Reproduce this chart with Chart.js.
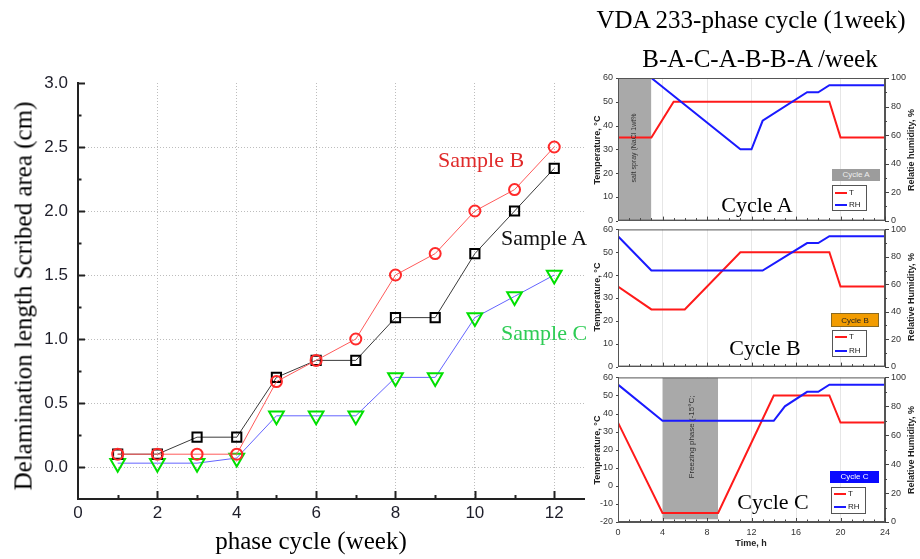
<!DOCTYPE html>
<html><head><meta charset="utf-8">
<script src="https://cdn.jsdelivr.net/npm/chart.js@4.4.0/dist/chart.umd.min.js"></script>
<style>
html,body{margin:0;padding:0;background:#fff;}
body{width:920px;height:559px;position:relative;overflow:hidden;}
canvas{position:absolute;}
.t{position:absolute;white-space:nowrap;line-height:1;}
.serif{font-family:"Liberation Serif","DejaVu Serif",serif;}
.sans{font-family:"Liberation Sans",Arial,sans-serif;}
.c{transform:translate(-50%,-50%);}
.l{transform:translate(0,-50%);}
.rot{transform:translate(-50%,-50%) rotate(-90deg);}
.box{position:absolute;box-sizing:border-box;}
.leg{position:absolute;box-sizing:border-box;border:1px solid #555;background:#fff;}
.sw{position:absolute;height:2px;}
</style></head><body>
<canvas id="main" width="600" height="559" style="left:0;top:0"></canvas>
<canvas id="ca" width="330" height="166" style="left:590px;top:66px"></canvas>
<canvas id="cb" width="330" height="160" style="left:590px;top:218px"></canvas>
<canvas id="cc" width="330" height="193" style="left:590px;top:366px"></canvas>

<!-- main chart texts -->
<div class="t serif rot" style="left:23px;top:296px;font-size:25px;">Delamination length Scribed area (cm)</div>
<div class="t serif c" style="left:311px;top:540px;font-size:25px;">phase cycle (week)</div>
<div class="t serif l" style="left:438px;top:160px;font-size:22px;color:#e02a2a;">Sample B</div>
<div class="t serif l" style="left:501px;top:238px;font-size:22px;color:#111;">Sample A</div>
<div class="t serif l" style="left:501px;top:333px;font-size:22px;color:#2ecc55;">Sample C</div>

<!-- headings -->
<div class="t serif c" style="left:751px;top:19px;font-size:25px;">VDA 233-phase cycle (1week)</div>
<div class="t serif c" style="left:760px;top:58px;font-size:25px;">B-A-C-A-B-B-A /week</div>

<!-- small chart axis titles -->
<div class="t sans rot" style="left:597px;top:150px;font-size:9px;font-weight:bold;color:#222;">Temperature, °C</div>
<div class="t sans rot" style="left:597px;top:297px;font-size:9px;font-weight:bold;color:#222;">Temperature, °C</div>
<div class="t sans rot" style="left:597px;top:450px;font-size:9px;font-weight:bold;color:#222;">Temperature, °C</div>
<div class="t sans rot" style="left:911px;top:150px;font-size:9px;font-weight:bold;color:#222;">Relatie humidity, %</div>
<div class="t sans rot" style="left:911px;top:297px;font-size:9px;font-weight:bold;color:#222;">Relative Humidity, %</div>
<div class="t sans rot" style="left:911px;top:450px;font-size:9px;font-weight:bold;color:#222;">Relative Humidity, %</div>
<div class="t sans c" style="left:751px;top:543px;font-size:9px;font-weight:bold;color:#222;">Time, h</div>

<!-- grey box texts -->
<div class="t sans rot" style="left:633px;top:148px;font-size:7px;color:#333;">salt spray (NaCl 1wt%</div>
<div class="t sans rot" style="left:692px;top:437px;font-size:8px;color:#333;">Freezing phase (-15°C;</div>

<!-- cycle names -->
<div class="t serif c" style="left:757px;top:205px;font-size:22px;">Cycle A</div>
<div class="t serif c" style="left:765px;top:348px;font-size:22px;">Cycle B</div>
<div class="t serif c" style="left:773px;top:502px;font-size:22px;">Cycle C</div>

<!-- cycle tags -->
<div class="box sans" style="left:832px;top:169px;width:48px;height:12px;background:#9c9c9c;color:#eee;font-size:8px;line-height:12px;text-align:center;">Cycle A</div>
<div class="box sans" style="left:831px;top:313px;width:48px;height:14px;background:#f29c00;color:#222;font-size:8px;line-height:14px;text-align:center;border:1px solid #8a6a20;">Cycle B</div>
<div class="box sans" style="left:830px;top:471px;width:49px;height:12px;background:#0a0aff;color:#fff;font-size:8px;line-height:12px;text-align:center;">Cycle C</div>

<!-- legends -->
<div class="leg" style="left:832px;top:185px;width:35px;height:26px;"></div>
<div class="sw" style="left:835px;top:192px;width:12px;background:#ff1a1a;"></div>
<div class="t sans l" style="left:849px;top:193px;font-size:8px;color:#222;">T</div>
<div class="sw" style="left:835px;top:204px;width:12px;background:#1a1aff;"></div>
<div class="t sans l" style="left:849px;top:205px;font-size:8px;color:#222;">RH</div>

<div class="leg" style="left:832px;top:330px;width:35px;height:27px;"></div>
<div class="sw" style="left:835px;top:336px;width:12px;background:#ff1a1a;"></div>
<div class="t sans l" style="left:849px;top:337px;font-size:8px;color:#222;">T</div>
<div class="sw" style="left:835px;top:350px;width:12px;background:#1a1aff;"></div>
<div class="t sans l" style="left:849px;top:351px;font-size:8px;color:#222;">RH</div>

<div class="leg" style="left:831px;top:487px;width:35px;height:27px;"></div>
<div class="sw" style="left:834px;top:493px;width:12px;background:#ff1a1a;"></div>
<div class="t sans l" style="left:848px;top:494px;font-size:8px;color:#222;">T</div>
<div class="sw" style="left:834px;top:506px;width:12px;background:#1a1aff;"></div>
<div class="t sans l" style="left:848px;top:507px;font-size:8px;color:#222;">RH</div>

<script>
// ---------- main chart data ----------
const weeks   = [1,2,3,4,5,6,7,8,9,10,11,12];
const sampleA = [0.10,0.10,0.233,0.233,0.70,0.833,0.833,1.167,1.167,1.667,2.00,2.333];
const sampleB = [0.10,0.10,0.10,0.10,0.667,0.833,1.00,1.50,1.667,2.00,2.167,2.50];
const sampleC = [0.03,0.03,0.03,0.07,0.40,0.40,0.40,0.70,0.70,1.167,1.333,1.50];
const xTickValues = [0,1,2,3,4,5,6,7,8,9,10,11,12];
const xMajor = [2,4,6,8,10,12];
const xMinor = [1,3,5,7,9,11];
const yTickValues = [-0.25,0,0.25,0.5,0.75,1.0,1.25,1.5,1.75,2.0,2.25,2.5,2.75,3.0];
const yMajor = [0,0.5,1.0,1.5,2.0,2.5,3.0];
const yMinor = [0.25,0.75,1.25,1.75,2.25,2.75];
const yGrid  = [0,0.5,1.0,1.5,2.0,2.5];

// ---------- cycle data (hours / values) ----------
const cycleA_T_h  = [0,3,5,19,20,24];
const cycleA_T    = [35,35,50,50,35,35];
const cycleA_RH_h = [0,3,11,12,13,17,18,19,24];
const cycleA_RH   = [100,100,50,50,70,90,90,95,95];
const cycleA_box  = [0,3];      // salt spray phase (h)

const cycleB_T_h  = [0,3,6,11,19,20,24];
const cycleB_T    = [35,25,25,50,50,35,35];
const cycleB_RH_h = [0,3,13,17,18,19,24];
const cycleB_RH   = [95,70,70,90,90,95,95];

const cycleC_T_h  = [0,4,9,14,19,20,24];
const cycleC_T    = [35,-15,-15,50,50,35,35];
const cycleC_RH_h = [0,4,14,15,17,18,19,24];
const cycleC_RH   = [95,70,70,80,90,90,95,95];
const cycleC_box  = [4,9];      // freezing phase (h)

const hourTicks  = [0,4,8,12,16,20,24];
const hourMinor  = [1,2,3,5,6,7,9,10,11,13,14,15,17,18,19,21,22,23];
const tempTicksAB = [0,10,20,30,40,50,60];
const tempTicksC  = [-20,-10,0,10,20,30,40,50,60];
const rhTicks    = [0,20,40,60,80,100];
const rhMinor    = [10,30,50,70,90];

const pts = (xs, ys) => xs.map((x,i)=>({x:x, y:ys[i]}));

const tickMarks = {
  id:'tickMarks',
  afterDraw(chart, args, opts){
    const ctx = chart.ctx, a = chart.chartArea;
    ctx.save();
    ctx.strokeStyle = opts.color || '#222';
    (opts.marks || []).forEach(m=>{
      const sc = chart.scales[m.axis];
      ctx.lineWidth = m.width || 1.5;
      m.values.forEach(v=>{
        const p = Math.round(sc.getPixelForValue(v)) + 0.5;
        ctx.beginPath();
        if (m.side === 'bottom') { ctx.moveTo(p, a.bottom); ctx.lineTo(p, a.bottom - m.len); }
        else if (m.side === 'left') { ctx.moveTo(a.left, p); ctx.lineTo(a.left + m.len, p); }
        else if (m.side === 'leftOut') { ctx.moveTo(a.left, p); ctx.lineTo(a.left - m.len, p); }
        else if (m.side === 'right') { ctx.moveTo(a.right, p); ctx.lineTo(a.right + m.len, p); }
        ctx.stroke();
      });
    });
    if (opts.frame) {
      ctx.lineWidth = 1; ctx.strokeStyle = opts.frameColor || '#555';
      ctx.strokeRect(a.left + 0.5, a.top + 0.5, a.right - a.left - 1, a.bottom - a.top - 1);
    }
    ctx.restore();
  }
};

const isIn = (arr, v) => arr.some(a => Math.abs(a - v) < 1e-6);

// ---------- main chart ----------
new Chart(document.getElementById('main'), {
  type: 'line',
  data: {
    datasets: [
      { label:'Sample A', data: pts(weeks, sampleA), borderColor:'#3a3a3a', borderWidth:1,
        pointStyle:'rect', pointRadius:6.5, pointBorderColor:'#000', pointBorderWidth:2,
        pointBackgroundColor:'rgba(0,0,0,0)', tension:0, order:1 },
      { label:'Sample B', data: pts(weeks, sampleB), borderColor:'#ff5a5a', borderWidth:1,
        pointStyle:'circle', pointRadius:5.5, pointBorderColor:'#ff2a2a', pointBorderWidth:2,
        pointBackgroundColor:'rgba(0,0,0,0)', tension:0, order:0 },
      { label:'Sample C', data: pts(weeks, sampleC), borderColor:'#6464ff', borderWidth:1,
        pointStyle:'triangle', pointRotation:180, pointRadius:8.5, pointBorderColor:'#00e000', pointBorderWidth:2,
        pointBackgroundColor:'rgba(0,0,0,0)', tension:0, order:2 }
    ]
  },
  options: {
    responsive:false, animation:false,
    layout:{ padding:{ left:0, right:16, top:83, bottom:0 } },
    plugins:{ legend:{display:false}, tooltip:{enabled:false},
      tickMarks:{ color:'#222', marks:[
        {axis:'x', side:'bottom', values:xMajor, len:8, width:2},
        {axis:'x', side:'bottom', values:xMinor, len:4, width:2},
        {axis:'y', side:'left', values:yMajor, len:7, width:2},
        {axis:'y', side:'left', values:yMinor, len:3.5, width:2}
      ]}
    },
    scales:{
      x:{ type:'linear', min:0, max:12.75,
        afterBuildTicks: s => { s.ticks = xTickValues.map(v=>({value:v})); },
        afterFit: s => { s.height = 60; },
        ticks:{ autoSkip:false, maxRotation:0, padding:4, color:'#1e1e2a',
          font:{family:'Liberation Sans', size:17},
          callback: v => (v % 2 === 0 ? String(v) : '') },
        grid:{ drawTicks:false, lineWidth:1,
          color: c => (c.tick && isIn(xMajor, c.tick.value)) ? '#bdbdbd' : 'rgba(0,0,0,0)' },
        border:{ display:true, color:'#222', width:2, dash:[1,2] }
      },
      y:{ type:'linear', min:-0.25, max:3.0,
        afterBuildTicks: s => { s.ticks = yTickValues.map(v=>({value:v})); },
        afterFit: s => { s.width = 78; },
        ticks:{ autoSkip:false, padding:10, color:'#1e1e2a',
          font:{family:'Liberation Sans', size:17},
          callback: v => (isIn(yMajor, v) ? v.toFixed(1) : '') },
        grid:{ drawTicks:false, lineWidth:1,
          color: c => (c.tick && isIn(yGrid, c.tick.value)) ? '#bdbdbd' : 'rgba(0,0,0,0)' },
        border:{ display:true, color:'#222', width:2, dash:[1,2] }
      }
    }
  },
  plugins:[tickMarks]
});

// ---------- cycle charts ----------
function cycleChart(id, tH, tV, rhH, rhV, box, boxBottom, yMin, tempTicks, showX, padTop, padBottom){
  const datasets = [
    { data: pts(tH, tV), yAxisID:'y', borderColor:'#ff1a1a', borderWidth:2, pointRadius:0, tension:0, order:1 },
    { data: pts(rhH, rhV), yAxisID:'y2', borderColor:'#1a1aff', borderWidth:2, pointRadius:0, tension:0, order:0 }
  ];
  if (box) {
    datasets.push({ data: pts(box, [60,60]), yAxisID:'y', borderWidth:0, pointRadius:0,
      backgroundColor:'#a9a9a9', fill:{value:boxBottom}, order:10 });
  }
  const small = {family:'Liberation Sans', size:9};
  return new Chart(document.getElementById(id), {
    type:'line',
    data:{ datasets },
    options:{
      responsive:false, animation:false,
      layout:{ padding:{ left:0, right:0, top:padTop, bottom:padBottom } },
      plugins:{ legend:{display:false}, tooltip:{enabled:false},
        tickMarks:{ color:'#444', frame:true, frameColor:'#555', marks:[
          {axis:'x', side:'bottom', values:hourMinor, len:2.5, width:1},
          {axis:'x', side:'bottom', values:hourTicks, len:4, width:1},
          {axis:'y2', side:'right', values:rhTicks, len:4, width:1},
          {axis:'y2', side:'right', values:rhMinor, len:2, width:1},
          {axis:'y', side:'leftOut', values:tempTicks, len:2, width:1}
        ]}
      },
      scales:{
        x:{ type:'linear', min:0, max:24,
          afterBuildTicks: s => { s.ticks = hourTicks.map(v=>({value:v})); },
          afterFit: s => { s.height = showX ? 37 : 0; },
          ticks:{ display:showX, padding:5, color:'#333', font:small, maxRotation:0, autoSkip:false },
          grid:{ drawTicks:false, color:'#e6e6e6', lineWidth:1 },
          border:{ color:'#555', width:1 }
        },
        y:{ type:'linear', position:'left', min:yMin, max:60,
          afterBuildTicks: s => { s.ticks = tempTicks.map(v=>({value:v})); },
          afterFit: s => { s.width = 28; },
          ticks:{ padding:5, color:'#333', font:small, autoSkip:false },
          grid:{ display:false, drawTicks:false },
          border:{ color:'#555', width:1 }
        },
        y2:{ type:'linear', position:'right', min:0, max:100,
          afterBuildTicks: s => { s.ticks = rhTicks.map(v=>({value:v})); },
          afterFit: s => { s.width = 35; },
          ticks:{ padding:6, color:'#333', font:small, autoSkip:false },
          grid:{ display:false, drawTicks:false },
          border:{ color:'#555', width:1 }
        }
      }
    },
    plugins:[tickMarks]
  });
}

cycleChart('ca', cycleA_T_h, cycleA_T, cycleA_RH_h, cycleA_RH, cycleA_box, 0, 0, tempTicksAB, false, 12, 10);
cycleChart('cb', cycleB_T_h, cycleB_T, cycleB_RH_h, cycleB_RH, null, 0, 0, tempTicksAB, false, 10, 11);
cycleChart('cc', cycleC_T_h, cycleC_T, cycleC_RH_h, cycleC_RH, cycleC_box, -18.5, -20, tempTicksC, true, 10, 0);
</script>
</body></html>
